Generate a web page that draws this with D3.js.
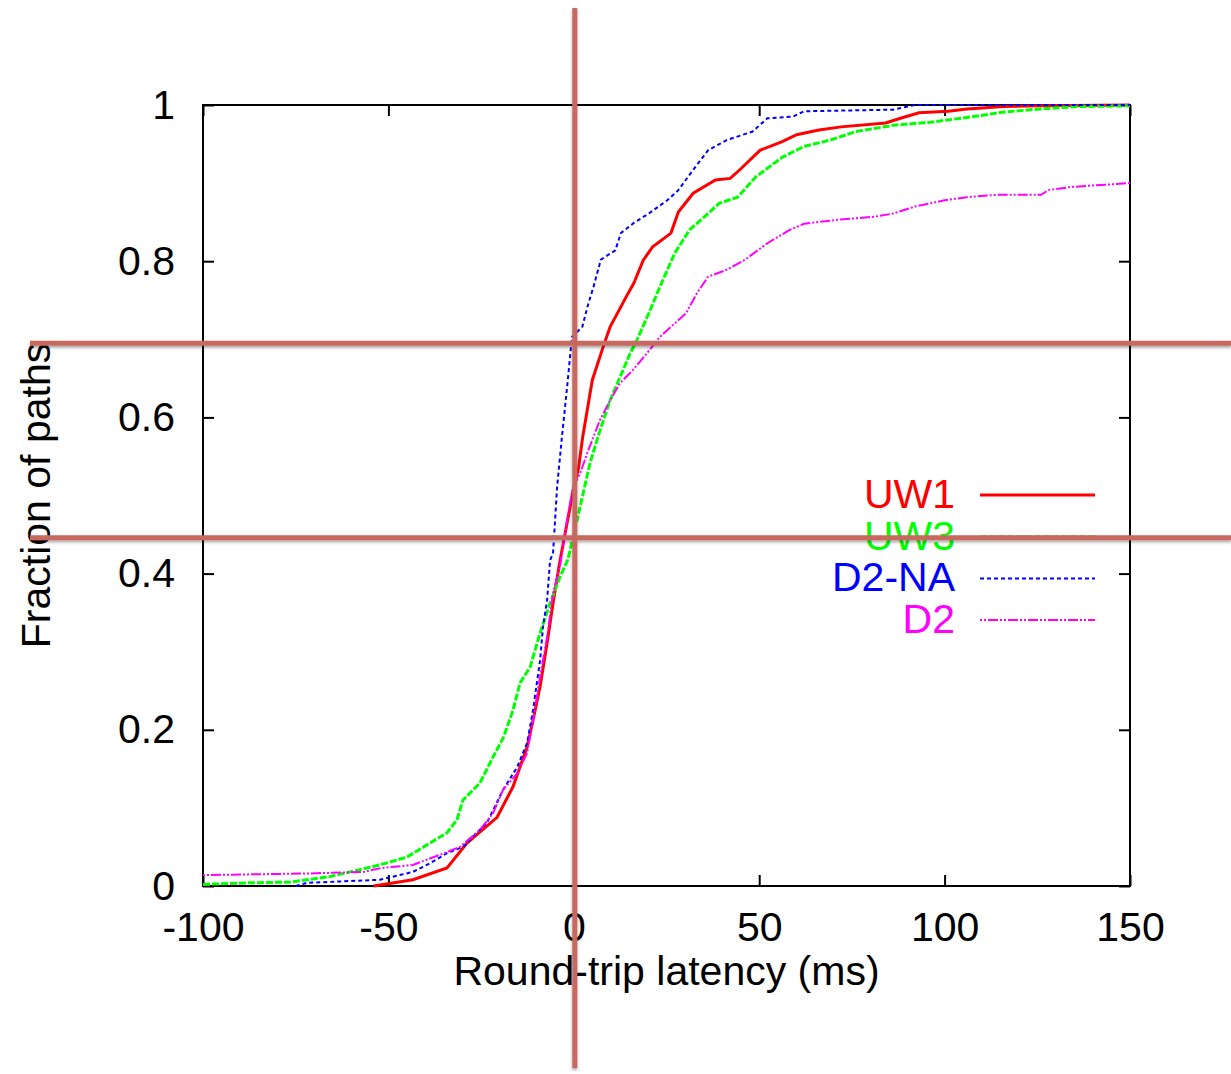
<!DOCTYPE html>
<html>
<head>
<meta charset="utf-8">
<script src="https://cdn.jsdelivr.net/npm/d3@7"></script>
<style>
  body { margin: 0; background: #fff; }
  text { font-family: "Liberation Sans", Arial, Helvetica, sans-serif; }
</style>
</head>
<body>
<script>
// CDF of round-trip latency per dataset

var seriesNames = ["UW1", "UW3", "D2-NA", "D2"];
var seriesColors = ["#ff0000", "#00ff00", "#0000ff", "#ff00ff"];

var uw1Latency = [-54, -43.4, -34.2, -28.8, -20.7, -16.4, -12.6, -11, -9.1, -7.2, -5.6, -3.7, -0.3, 1.3, 2.4, 5.0, 7.9, 9.8, 14.2, 16.2, 18.7, 21.2, 26.2, 28.2, 32.2, 38.2, 42.2, 45.2, 50.2, 56.2, 60.1, 66.1, 72.1, 84.1, 88.1, 93.1, 101, 106, 116, 126, 150];
var uw1Fraction = [0, 0.008, 0.023, 0.055, 0.088, 0.127, 0.178, 0.212, 0.255, 0.311, 0.362, 0.417, 0.503, 0.536, 0.575, 0.648, 0.69, 0.716, 0.755, 0.772, 0.801, 0.818, 0.836, 0.863, 0.887, 0.904, 0.906, 0.919, 0.942, 0.953, 0.962, 0.968, 0.972, 0.977, 0.983, 0.99, 0.992, 0.995, 0.998, 0.999, 1.0];

var uw3Latency = [-100, -88, -76.5, -72, -65.8, -58.5, -52.3, -45, -38.8, -34.2, -31.5, -29.9, -25.3, -21.8, -19, -16.4, -14.5, -11.8, -9.1, -6.4, -3.7, -1.6, 0.9, 4.4, 7.1, 9.8, 12.5, 15.2, 17, 20.2, 23.2, 27.2, 31.2, 36.2, 39.2, 44.2, 49.1, 56.2, 62.1, 69.1, 76.1, 86.1, 96.1, 106, 116, 126, 136, 150];
var uw3Fraction = [0.002, 0.004, 0.005, 0.008, 0.012, 0.02, 0.027, 0.037, 0.055, 0.068, 0.085, 0.11, 0.132, 0.165, 0.19, 0.225, 0.26, 0.28, 0.324, 0.362, 0.396, 0.418, 0.469, 0.542, 0.584, 0.622, 0.652, 0.682, 0.699, 0.733, 0.767, 0.81, 0.84, 0.861, 0.874, 0.882, 0.908, 0.933, 0.947, 0.955, 0.966, 0.974, 0.978, 0.984, 0.991, 0.995, 0.998, 0.999];

var d2naLatency = [-75, -72, -52.3, -43.4, -38.8, -34.2, -29.9, -23.4, -19.1, -15.3, -12.6, -11, -9.1, -8.3, -7.2, -6.4, -5.6, -4.5, -3.2, -1.8, -0.5, 2.3, 3.7, 5.3, 7.3, 11.2, 12.7, 16.2, 20.2, 25.2, 28.2, 32.2, 36.2, 41.2, 48.2, 52.2, 59.1, 62.1, 86.1, 92, 150];
var d2naFraction = [0, 0.004, 0.008, 0.018, 0.029, 0.042, 0.05, 0.081, 0.123, 0.152, 0.183, 0.225, 0.289, 0.332, 0.366, 0.417, 0.426, 0.511, 0.575, 0.639, 0.703, 0.716, 0.742, 0.767, 0.802, 0.814, 0.836, 0.849, 0.861, 0.878, 0.891, 0.917, 0.942, 0.955, 0.966, 0.983, 0.985, 0.992, 0.994, 1.0, 1.0];

var d2Latency = [-100, -72, -56.8, -52, -43.4, -36.1, -30.7, -25.3, -21.8, -19.1, -15.3, -12.6, -11, -9.1, -7.2, -5.6, -3.7, -1.8, -0.2, 1.7, 3.6, 7.1, 9.8, 12.5, 16, 19.7, 23.2, 26.2, 30.2, 33.2, 36.2, 41.2, 46.2, 52.2, 58.2, 62.1, 71.1, 81.1, 86.1, 92, 96.1, 100, 106, 114, 126, 128, 134, 150];
var d2Fraction = [0.014, 0.016, 0.018, 0.023, 0.027, 0.04, 0.05, 0.072, 0.093, 0.123, 0.144, 0.17, 0.212, 0.268, 0.319, 0.375, 0.41, 0.469, 0.511, 0.528, 0.554, 0.597, 0.622, 0.644, 0.661, 0.682, 0.703, 0.716, 0.733, 0.759, 0.78, 0.789, 0.802, 0.823, 0.84, 0.848, 0.853, 0.857, 0.861, 0.87, 0.874, 0.878, 0.882, 0.885, 0.885, 0.891, 0.895, 0.90];

var xTicks = [-100, -50, 0, 50, 100, 150];
var yTicks = [0, 0.2, 0.4, 0.6, 0.8, 1];

// the reddish guide lines drawn over the figure
var markerLatency = [0];
var markerFraction = [0.695, 0.446];

var w = 1231;
var h = 1074;
var margin = { top: 105, right: 101, bottom: 188, left: 203 };
var fontSize = 41;

var xScale = d3.scaleLinear().domain([-100, 150]).range([margin.left, w - margin.right]);
var yScale = d3.scaleLinear().domain([0, 1]).range([h - margin.bottom, margin.top]);

var svg = d3.select("body").append("svg").attr("width", w).attr("height", h);

var defs = svg.append("defs");
var shadow = defs.append("filter").attr("id", "shadow")
    .attr("x", "-5%").attr("y", "-50%").attr("width", "110%").attr("height", "300%");
shadow.append("feDropShadow")
    .attr("dx", 0).attr("dy", 2).attr("stdDeviation", 1.5)
    .attr("flood-color", "#000").attr("flood-opacity", 0.35);

var series = [
  { name: seriesNames[0], color: seriesColors[0], x: uw1Latency, y: uw1Fraction, width: 3, dash: null },
  { name: seriesNames[1], color: seriesColors[1], x: uw3Latency, y: uw3Fraction, width: 3, dash: "7,2" },
  { name: seriesNames[2], color: seriesColors[2], x: d2naLatency, y: d2naFraction, width: 2, dash: "4,3" },
  { name: seriesNames[3], color: seriesColors[3], x: d2Latency, y: d2Fraction, width: 2, dash: "2,2,2,2,10,2" }
];

// axes with inward ticks on all four sides

var plotLeft = xScale.range()[0], plotRight = xScale.range()[1];
var plotTop = yScale.range()[1], plotBottom = yScale.range()[0];

svg.append("g")
    .attr("transform", "translate(0," + plotBottom + ")")
    .call(d3.axisBottom(xScale).tickValues(xTicks).tickSizeInner(-11).tickSizeOuter(0).tickPadding(26)
      .tickFormat(function(d) { return String(d); }))
    .call(styleAxis);

svg.append("g")
    .attr("transform", "translate(0," + plotTop + ")")
    .call(d3.axisTop(xScale).tickValues(xTicks).tickSizeInner(-11).tickSizeOuter(0).tickFormat(""))
    .call(styleAxis);

svg.append("g")
    .attr("transform", "translate(" + plotLeft + ",0)")
    .call(d3.axisLeft(yScale).tickValues(yTicks).tickSizeInner(-11).tickSizeOuter(0).tickPadding(28)
      .tickFormat(function(d) { return String(+d.toFixed(1)); }))
    .call(styleAxis);

svg.append("g")
    .attr("transform", "translate(" + plotRight + ",0)")
    .call(d3.axisRight(yScale).tickValues(yTicks).tickSizeInner(-11).tickSizeOuter(0).tickFormat(""))
    .call(styleAxis);

function styleAxis(g) {
  g.select(".domain").remove();
  g.selectAll(".tick line").attr("stroke", "#000").attr("stroke-width", 2);
  g.selectAll(".tick text").attr("fill", "#000").style("font-size", fontSize + "px");
}

svg.append("rect")
    .attr("x", plotLeft).attr("y", plotTop)
    .attr("width", plotRight - plotLeft).attr("height", plotBottom - plotTop)
    .attr("fill", "none").attr("stroke", "#000").attr("stroke-width", 2);

// axis titles

svg.append("text")
    .attr("x", (plotLeft + plotRight) / 2)
    .attr("y", 985)
    .attr("text-anchor", "middle")
    .style("font-size", fontSize + "px")
    .text("Round-trip latency (ms)");

svg.append("text")
    .attr("transform", "translate(50," + (plotTop + plotBottom) / 2 + ") rotate(-90)")
    .attr("text-anchor", "middle")
    .style("font-size", fontSize + "px")
    .text("Fraction of paths");

// the curves

var line = d3.line()
    .x(function(d) { return xScale(d[0]); })
    .y(function(d) { return yScale(d[1]); });

svg.append("g").selectAll("path")
    .data(series)
    .enter().append("path")
    .attr("d", function(s) { return line(d3.zip(s.x, s.y)); })
    .attr("fill", "none")
    .attr("stroke", function(s) { return s.color; })
    .attr("stroke-width", function(s) { return s.width; })
    .attr("stroke-dasharray", function(s) { return s.dash; });

// legend

var legend = svg.append("g").attr("class", "legend");
var legendRows = legend.selectAll("g")
    .data(series)
    .enter().append("g")
    .attr("transform", function(d, i) { return "translate(0," + (495 + i * 41.7) + ")"; });

legendRows.append("text")
    .attr("x", 955)
    .attr("y", 13)
    .attr("text-anchor", "end")
    .attr("fill", function(s) { return s.color; })
    .style("font-size", fontSize + "px")
    .text(function(s) { return s.name; });

legendRows.append("line")
    .attr("x1", 980).attr("x2", 1095)
    .attr("y1", 0).attr("y2", 0)
    .attr("stroke", function(s) { return s.color; })
    .attr("stroke-width", function(s) { return s.width; })
    .attr("stroke-dasharray", function(s) { return s.dash; });

// guide lines on top

var guides = svg.append("g").attr("filter", "url(#shadow)");

guides.selectAll(".hguide")
    .data(markerFraction)
    .enter().append("line")
    .attr("class", "hguide")
    .attr("x1", 30).attr("x2", w)
    .attr("y1", function(d) { return yScale(d); })
    .attr("y2", function(d) { return yScale(d); })
    .attr("stroke", "#c86961").attr("stroke-width", 5);

guides.selectAll(".vguide")
    .data(markerLatency)
    .enter().append("line")
    .attr("class", "vguide")
    .attr("x1", function(d) { return xScale(d) + 1; })
    .attr("x2", function(d) { return xScale(d) + 1; })
    .attr("y1", 8).attr("y2", 1068)
    .attr("stroke", "#c86961").attr("stroke-width", 5);
</script>
</body>
</html>
